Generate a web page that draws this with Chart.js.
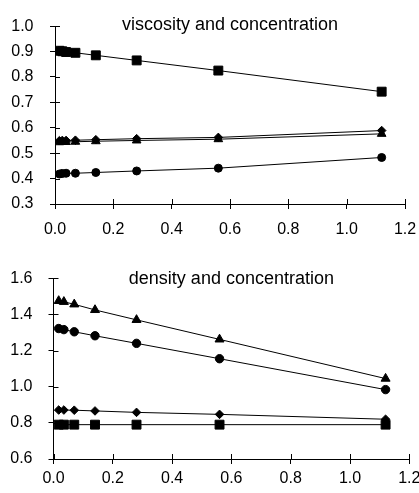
<!DOCTYPE html>
<html>
  <head>
    <title></title>
    <meta charset="utf-8" />
    <script src="https://cdn.jsdelivr.net/npm/chart.js@4"></script>
    <style>
      html, body { margin: 0; padding: 0; background: #fff; }
      #wrap { position: relative; width: 419px; height: 493px; }
      #viscosity { position: absolute; left: 0; top: 0; }
      #density { position: absolute; left: 0; top: 247px; }
    </style>
  </head>
  <body>
    <div id="wrap">
      <canvas id="viscosity" width="419" height="247"></canvas>
      <canvas id="density" width="419" height="246"></canvas>
    </div>
    <script>
      // concentrations
      const topConc = [0.015, 0.025, 0.038, 0.07, 0.14, 0.28, 0.56, 1.12];
      const bottomConc = [0.0175, 0.035, 0.07, 0.14, 0.28, 0.56, 1.12];

      // viscosity and concentration
      const viscSquares = [0.903, 0.901, 0.898, 0.895, 0.885, 0.865, 0.825, 0.742];
      const viscDiamonds = [0.549, 0.55, 0.55, 0.551, 0.553, 0.557, 0.562, 0.589];
      const viscTriangles = [0.543, 0.544, 0.544, 0.545, 0.547, 0.55, 0.555, 0.576];
      const viscCircles = [0.418, 0.42, 0.421, 0.421, 0.424, 0.43, 0.441, 0.483];

      // density and concentration
      const densTriangles = [1.475, 1.47, 1.456, 1.425, 1.37, 1.262, 1.045];
      const densCircles = [1.322, 1.316, 1.304, 1.282, 1.24, 1.155, 0.984];
      const densDiamonds = [0.871, 0.871, 0.87, 0.866, 0.858, 0.847, 0.82];
      const densSquares = [0.79, 0.79, 0.79, 0.79, 0.79, 0.79, 0.79];

      const xTicks = [0, 0.2, 0.4, 0.6, 0.8, 1.0, 1.2];

      const FONT = "'Liberation Sans', Arial, sans-serif";

      // short tick marks that also reach into the plot, like the original
      const innerTicks = {
        id: "innerTicks",
        afterDraw(chart) {
          const { ctx, chartArea, scales } = chart;
          ctx.save();
          ctx.strokeStyle = "#000";
          ctx.lineWidth = 1;
          ctx.beginPath();
          scales.x.ticks.forEach(t => {
            const px = Math.round(scales.x.getPixelForValue(t.value)) + 0.5;
            ctx.moveTo(px, chartArea.bottom);
            ctx.lineTo(px, chartArea.bottom - 5);
          });
          scales.y.ticks.forEach(t => {
            const py = Math.round(scales.y.getPixelForValue(t.value)) + 0.5;
            ctx.moveTo(chartArea.left, py);
            ctx.lineTo(chartArea.left + 5, py);
          });
          ctx.stroke();
          ctx.restore();
        }
      };

      function series(xs, ys, style, radius) {
        return {
          data: ys.map((y, i) => ({ x: xs[i], y })),
          borderColor: "#000",
          borderWidth: 1,
          pointStyle: style,
          pointRadius: radius,
          pointBackgroundColor: "#000",
          pointBorderColor: "#000",
          pointBorderWidth: 1
        };
      }

      function makeChart({ id, title, datasets, yMin, yMax, yStep, pad, titlePadBottom, yWidth, yPad, xHeight, xPad }) {
        return new Chart(document.getElementById(id), {
          type: "line",
          data: { datasets },
          plugins: [innerTicks],
          options: {
            responsive: false,
            animation: false,
            layout: { padding: pad },
            plugins: {
              legend: { display: false },
              tooltip: { enabled: false },
              title: {
                display: true,
                text: title,
                color: "#000",
                fullSize: false,
                font: { family: FONT, size: 18, weight: "normal" },
                padding: { top: 0, bottom: titlePadBottom }
              }
            },
            scales: {
              x: {
                type: "linear",
                min: 0,
                max: 1.2,
                afterBuildTicks: s => {
                  s.ticks = xTicks.map(value => ({ value }));
                },
                afterFit: s => {
                  s.height = xHeight;
                  s.paddingRight = 0;
                  s.paddingLeft = 0;
                },
                ticks: {
                  color: "#000",
                  padding: xPad,
                  maxRotation: 0,
                  font: { family: FONT, size: 16 },
                  callback: v => v.toFixed(1)
                },
                grid: { drawOnChartArea: false, color: "#000", tickLength: 5 },
                border: { color: "#000", width: 1 }
              },
              y: {
                min: yMin,
                max: yMax,
                afterFit: s => {
                  s.width = yWidth;
                },
                ticks: {
                  stepSize: yStep,
                  color: "#000",
                  padding: yPad,
                  font: { family: FONT, size: 16 },
                  callback: v => v.toFixed(1)
                },
                grid: { drawOnChartArea: false, color: "#000", tickLength: 5 },
                border: { color: "#000", width: 1 }
              }
            }
          }
        });
      }

      makeChart({
        id: "viscosity",
        title: "viscosity and concentration",
        datasets: [
          series(topConc, viscSquares, "rect", 6.3),
          series(topConc, viscDiamonds, "rectRot", 4.3),
          series(topConc, viscTriangles, "triangle", 5),
          series(topConc, viscCircles, "circle", 4)
        ],
        yMin: 0.3,
        yMax: 1.0,
        yStep: 0.1,
        pad: { top: 12.7, left: 0, right: 14, bottom: 0 },
        titlePadBottom: -10,
        yWidth: 55,
        yPad: 16.5,
        xHeight: 43,
        xPad: 11.4
      });

      makeChart({
        id: "density",
        title: "density and concentration",
        datasets: [
          series(bottomConc, densTriangles, "triangle", 5.2),
          series(bottomConc, densCircles, "circle", 4.2),
          series(bottomConc, densDiamonds, "rectRot", 4.3),
          series(bottomConc, densSquares, "rect", 6.3)
        ],
        yMin: 0.6,
        yMax: 1.6,
        yStep: 0.2,
        pad: { top: 21.7, left: 0, right: 9.7, bottom: 0 },
        titlePadBottom: -12,
        yWidth: 53.5,
        yPad: 16,
        xHeight: 34,
        xPad: 4.7
      });
    </script>
  </body>
</html>
